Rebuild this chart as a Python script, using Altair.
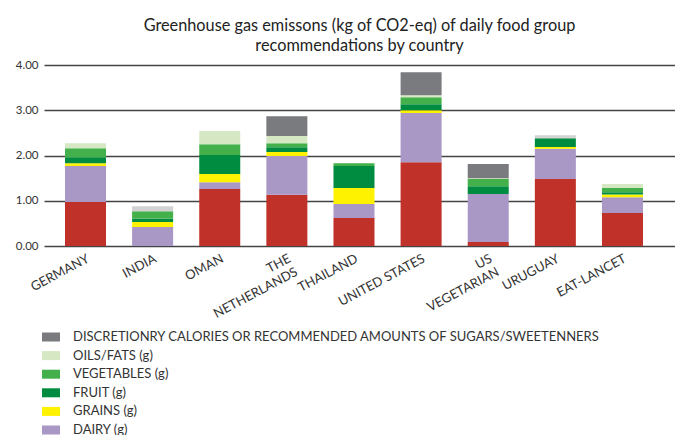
import altair as alt
import pandas as pd

countries = ["GERMANY", "INDIA", "OMAN", "THE\nNETHERLANDS", "THAILAND",
             "UNITED STATES", "US\nVEGETARIAN", "URUGUAY", "EAT-LANCET"]

groups = ["MEAT/PROTEIN (g)", "DAIRY (g)", "GRAINS (g)", "FRUIT (g)",
          "VEGETABLES (g)", "OILS/FATS (g)",
          "DISCRETIONRY CALORIES OR RECOMMENDED AMOUNTS OF SUGARS/SWEETENNERS",
          "OTHER"]
colors = ["#c0312a", "#a997c6", "#fff200", "#008c40", "#43b04b", "#d5e8c3",
          "#7a7b7f", "#d2d2d2"]

meat = [0.97, 0.00, 1.26, 1.13, 0.62, 1.85, 0.09, 1.48, 0.73]
dairy = [0.80, 0.42, 0.15, 0.86, 0.31, 1.09, 1.06, 0.67, 0.35]
grains = [0.06, 0.11, 0.18, 0.09, 0.35, 0.06, 0.00, 0.04, 0.06]
fruit = [0.13, 0.07, 0.42, 0.10, 0.49, 0.13, 0.17, 0.19, 0.05]
vegetables = [0.20, 0.17, 0.24, 0.09, 0.06, 0.16, 0.16, 0.00, 0.09]
oils = [0.11, 0.00, 0.29, 0.16, 0.00, 0.04, 0.02, 0.00, 0.09]
discretionary = [0.00, 0.00, 0.00, 0.44, 0.00, 0.51, 0.31, 0.00, 0.00]
other = [0.00, 0.11, 0.00, 0.00, 0.00, 0.00, 0.00, 0.07, 0.00]

series = [meat, dairy, grains, fruit, vegetables, oils, discretionary, other]

rows = []
for rank, (g, vals) in enumerate(zip(groups, series)):
    for c, v in zip(countries, vals):
        rows.append({"country": c, "group": g, "value": v, "rank": rank})
df = pd.DataFrame(rows)

legend_values = groups[:7][::-1]

chart = alt.Chart(df).mark_bar().encode(
    x=alt.X("country:N", sort=countries, title=None,
            scale=alt.Scale(paddingInner=0.389, paddingOuter=0.395, align=0.396),
            axis=alt.Axis(labelAngle=-28, labelAlign="right", labelBaseline="top",
                          labelPadding=6, ticks=False, domain=False,
                          labelFont="Lato", labelFontSize=13, labelColor="#333",
                          labelExpr="split(datum.label, '\\n')", labelLineHeight=15)),
    y=alt.Y("value:Q", stack="zero", title=None,
            scale=alt.Scale(domain=[0, 4], nice=False),
            axis=alt.Axis(values=[0, 1, 2, 3, 4], format=".2f", ticks=False,
                          domain=False, labelPadding=6, labelFont="Lato",
                          labelFontSize=11.5, labelColor="#333",
                          gridColor="#444444", gridWidth=1.5)),
    color=alt.Color("group:N",
                    scale=alt.Scale(domain=groups, range=colors),
                    legend=alt.Legend(values=legend_values, title=None,
                                      orient="none", legendX=-2, legendY=263,
                                      symbolType="M-1,-0.5H1V0.5H-1Z",
                                      symbolSize=324, symbolStrokeWidth=0,
                                      labelFont="Lato", labelFontSize=13,
                                      labelColor="#333", labelOffset=13,
                                      rowPadding=2.6, padding=0,
                                      labelLimit=650)),
    order=alt.Order("rank:Q", sort="ascending"),
).properties(
    width=631,
    height=181,
    title=alt.TitleParams(
        text=["Greenhouse gas emissons (kg of CO2-eq) of daily food group",
              "recommendations by country"],
        font="Lato", fontSize=16.3, fontWeight="normal", color="#222",
        anchor="middle", offset=5, lineHeight=20),
    autosize=alt.AutoSizeParams(type="none"),
    padding={"left": 44, "top": 65, "right": 0, "bottom": 200},
).configure_view(stroke=None)

chart.save("out.html", embed_options={"renderer": "svg", "actions": False})
